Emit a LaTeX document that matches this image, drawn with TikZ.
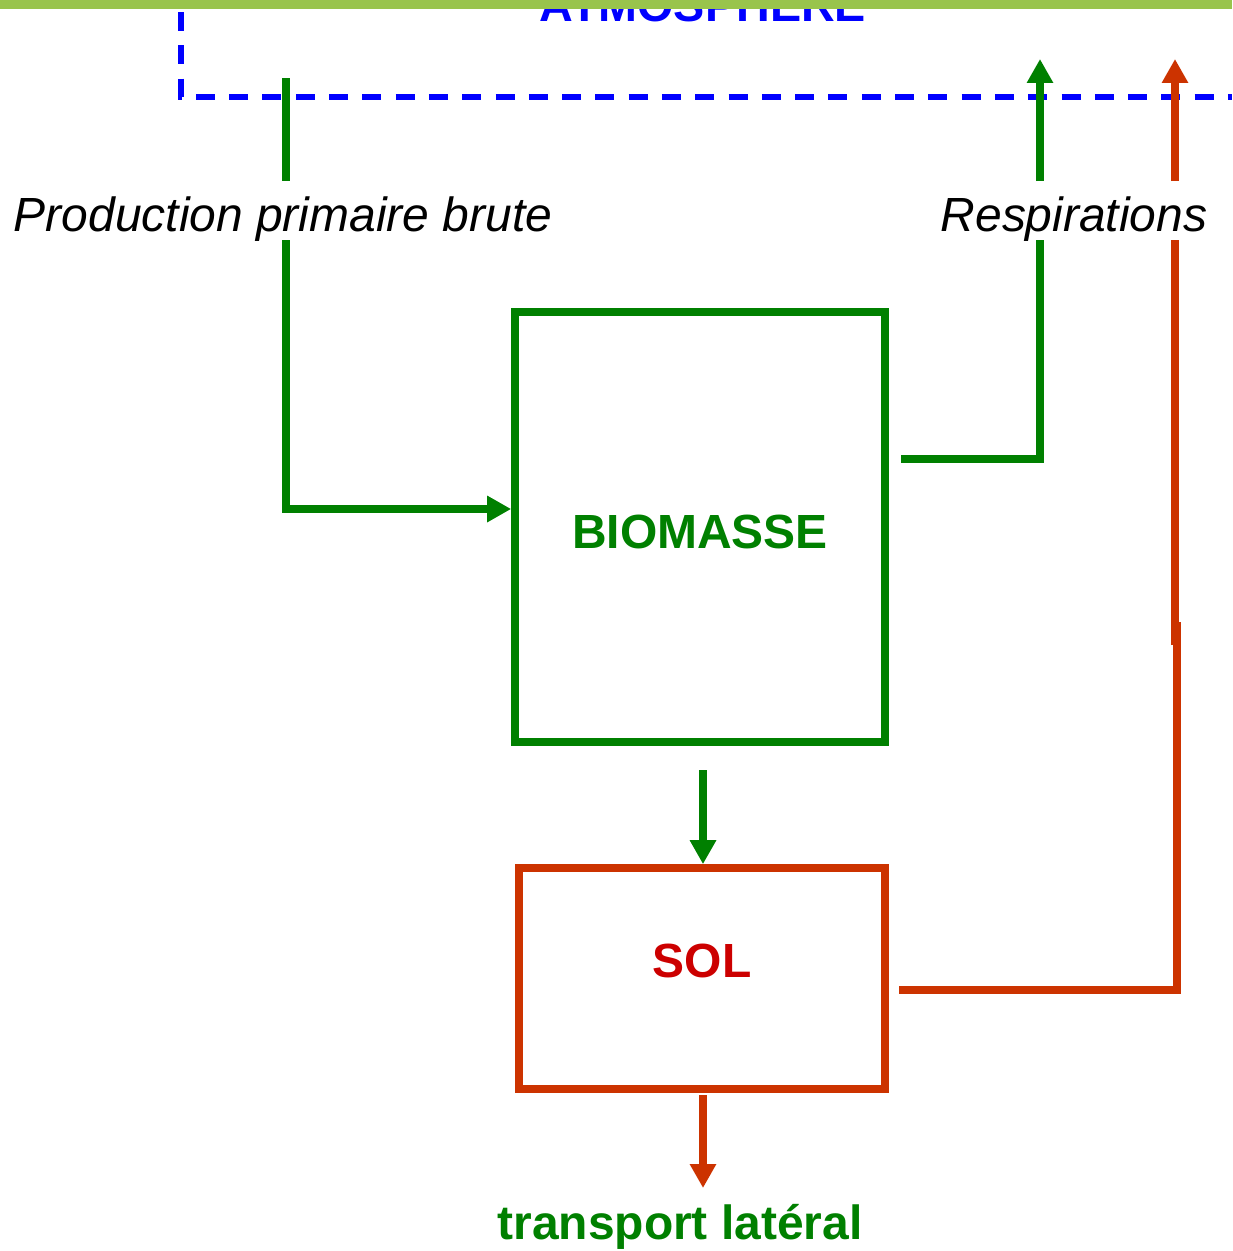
\documentclass[tikz,border=0pt]{standalone}
\usepackage{fontspec}
\setmainfont{Liberation Sans}
\usepackage{xcolor}
\usetikzlibrary{arrows.meta}

\definecolor{vert}{RGB}{0,128,0}
\definecolor{brique}{RGB}{204,51,0}
\definecolor{rouge}{RGB}{204,0,0}
\definecolor{bleu}{RGB}{0,0,255}
\definecolor{barre}{RGB}{153,196,77}

\tikzset{
  gflux/.style={vert, line width=4.4pt},
  rflux/.style={brique, line width=4.4pt},
  pointe/.style={-{Triangle[length=0.48cm,width=0.5cm]}},
  atmo/.style={bleu, line width=3.5pt, dash pattern=on 0.38cm off 0.286cm},
  boite/.style={draw, line width=4.4pt, inner sep=0pt},
  titre/.style={font=\fontsize{27.3}{33}\selectfont\bfseries, inner sep=0pt, anchor=base},
  legende/.style={font=\fontsize{27.3}{33}\selectfont\itshape, inner sep=0pt, anchor=base},
}

\begin{document}
\begin{tikzpicture}[x=0.02cm, y=-0.02cm]
  \useasboundingbox (0,0) rectangle (1232,1251);

  % Atmosphere
  \node[titre, bleu, font=\fontsize{26.6}{32}\selectfont\bfseries] (atm) at (703,21) {ATMOSPHERE};
  \fill[barre] (0,0) rectangle (1232,9);
  \draw[atmo] (181,12) -- (181,97) -- (1232,97);

  % Boites
  \node[boite, draw=vert, minimum width=7.4cm, minimum height=8.6cm] (biomasse) at (700,527) {};
  \node[titre, vert] (biotxt) at (700,548) {BIOMASSE};
  \node[boite, draw=brique, minimum width=7.32cm, minimum height=4.42cm] (sol) at (702,978.5) {};
  \node[titre, rouge] (soltxt) at (702,977) {SOL};

  % Textes
  \node[legende] (ppb) at (283,231) {Production primaire brute};
  \node[legende] (resp) at (1074,231) {Respirations};
  \node[titre, vert] (transport) at (680,1239) {transport latéral};

  % Production primaire brute
  \coordinate (ppbA) at (286,78);
  \coordinate (ppbB) at (286,181);
  \coordinate (ppbC) at (286,240);
  \coordinate (ppbD) at (286,509);
  \draw[gflux] (ppbA) -- (ppbB);
  \draw[gflux, pointe] (ppbC) -- (ppbD) -- (ppbD -| biomasse.west);

  % Respiration vegetale
  \coordinate (rvA) at (901,459);
  \coordinate (rvB) at (1040,459);
  \coordinate (rvC) at (1040,240);
  \coordinate (rvD) at (1040,181);
  \coordinate (rvE) at (1040,59);
  \draw[gflux] (rvA) -- (rvB) -- (rvC);
  \draw[gflux, pointe] (rvD) -- (rvE);

  % Respiration du sol
  \coordinate (rsA) at (899,990);
  \coordinate (rsB) at (1177,990);
  \coordinate (rsC) at (1177,622);
  \coordinate (rsD) at (1175,645);
  \coordinate (rsE) at (1175,240);
  \coordinate (rsF) at (1175,181);
  \coordinate (rsG) at (1175,59);
  \draw[rflux] (rsA) -- (rsB) -- (rsC);
  \draw[rflux] (rsD) -- (rsE);
  \draw[rflux, pointe] (rsF) -- (rsG);

  % Litiere et transport
  \coordinate (bs) at (703,770);
  \draw[gflux, pointe] (bs) -- (bs |- sol.north);
  \coordinate (ss) at (703,1095);
  \coordinate (tl) at (703,1188);
  \draw[rflux, pointe] (ss) -- (tl);

\end{tikzpicture}
\end{document}
